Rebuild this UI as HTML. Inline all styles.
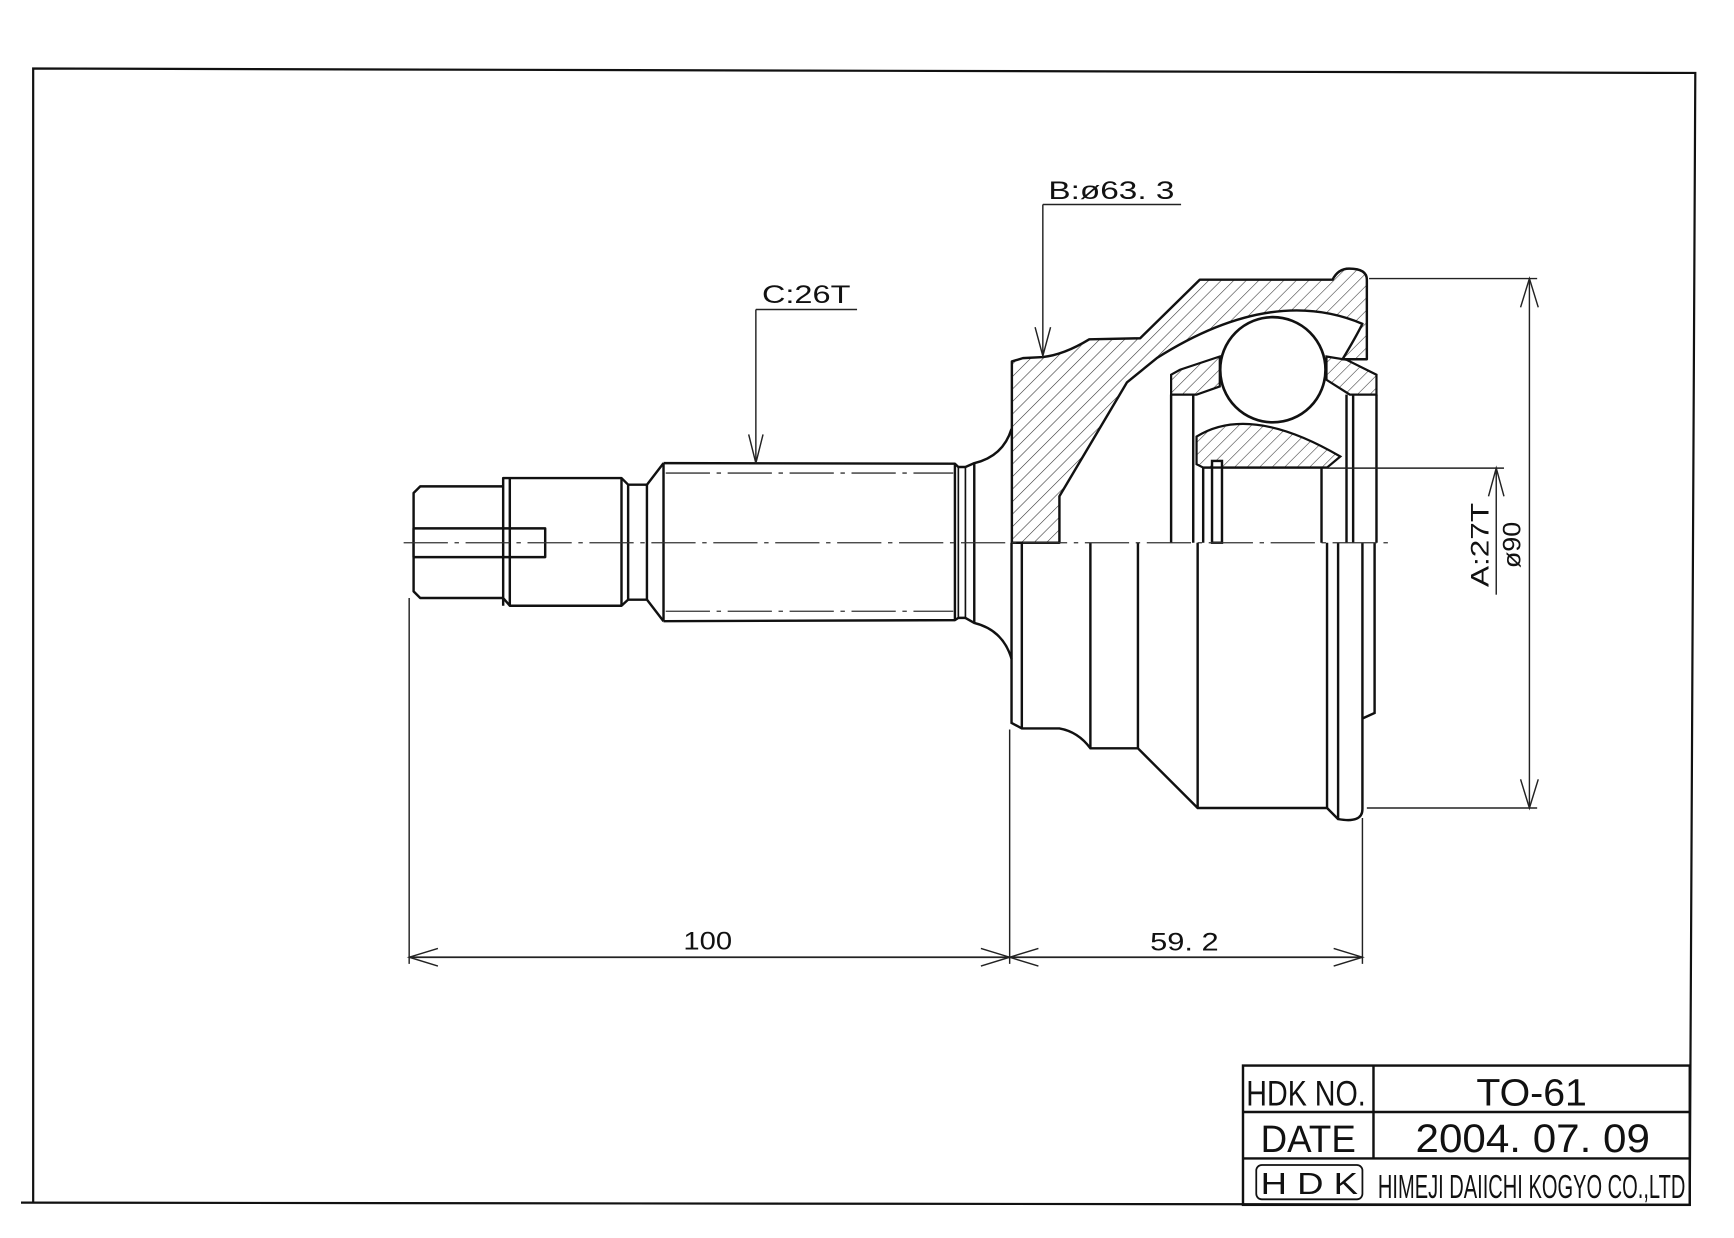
<!DOCTYPE html>
<html><head><meta charset="utf-8"><style>
html,body{margin:0;padding:0;background:#fff;}
svg{display:block;}
text{font-family:"Liberation Sans",sans-serif;fill:#111;}
</style></head><body>
<svg width="1734" height="1238" viewBox="0 0 1568 1120" preserveAspectRatio="none" xmlns="http://www.w3.org/2000/svg">
<defs>
<pattern id="h" patternUnits="userSpaceOnUse" width="8" height="8" patternTransform="rotate(45)">
<line x1="0" y1="0" x2="0" y2="8" stroke="#333" stroke-width="1"/>
</pattern>
</defs>
<rect width="1568" height="1120" fill="#fff"/>
<!-- frame -->
<polyline points="30,1088 30,62 1533,66 1528,1090" fill="none" stroke="#111" stroke-width="2"/>
<line x1="19" y1="1088" x2="1528" y2="1090" stroke="#111" stroke-width="2"/>

<g fill="none" stroke="#111" stroke-width="2.2" stroke-linejoin="round">
<path d="M455,440 L380,440 L374,446 L374,535 L380,541 L455,541"/>
<rect x="374" y="478" width="119" height="26" fill="#fff"/>
<path d="M455,548 L455,432.5 L461,432.5 L562,432.5 L568,438.5 L568,542.5 L562,548 L461,548 L455,541"/>
<line x1="461" y1="432.5" x2="461" y2="548"/>
<line x1="562" y1="432.5" x2="562" y2="548"/>
<path d="M568,438.5 L585,438.5 L600,419 M568,542.5 L585,542.5 L600,562"/>
<line x1="585" y1="438.5" x2="585" y2="542.5"/>
<path d="M600,419 L863.5,419.5 L866.6,422.5 L873,422.5 L881,419 Q907,413 914.7,388"/>
<path d="M600,562 L863.5,561 L866.6,559 L873,559 L881,563.6 Q907,570 914.7,596"/>
<line x1="600" y1="419" x2="600" y2="562"/>
<line x1="863.5" y1="419.5" x2="863.5" y2="561"/>
<line x1="866.6" y1="422.5" x2="866.6" y2="559" stroke-width="1.5"/>
<line x1="873" y1="422.5" x2="873" y2="559" stroke-width="1.5"/>
<line x1="881" y1="419" x2="881" y2="563.6"/>
</g>
<g stroke="#333" stroke-width="1.2" stroke-dasharray="40,6,4,6" fill="none">
<line x1="602" y1="428" x2="862" y2="428"/>
<line x1="602" y1="553" x2="862" y2="553"/>
</g>

<path d="M915,491 L915,327 L925,324 L943,323 Q962,321 985,307 L1031,306 L1085,253 L1205,253 Q1210,243 1220,243 Q1236,243 1236,253 L1236,325 L1214,325 Q1226,305 1232,293 Q1150,258 1046,324 L1019,346 L958,449 L958,491 Z" fill="url(#h)" stroke="#111" stroke-width="2.2" stroke-linejoin="round"/>
<path d="M1059,339 L1067,334.5 L1103,322.5 L1103,349.6 L1082,357 L1059,357 Z" fill="url(#h)" stroke="#111" stroke-width="2"/>
<path d="M1199.5,322.5 L1217.6,325.5 L1244.7,339 L1244.7,357 L1220.6,357 L1199.5,343.6 Z" fill="url(#h)" stroke="#111" stroke-width="2"/>
<circle cx="1151" cy="334.5" r="47.6" fill="#fff" stroke="#111" stroke-width="2.4"/>
<path d="M1082,420 L1082,395 Q1130,365 1212,413 L1200,423 L1088,423 Z" fill="url(#h)" stroke="#111" stroke-width="2"/>

<g fill="none" stroke="#111" stroke-width="2.2">
<line x1="1059" y1="357" x2="1059" y2="491"/>
<line x1="1079" y1="357" x2="1079" y2="491"/>
<line x1="1088" y1="423" x2="1088" y2="491"/>
<rect x="1096" y="417" width="9" height="74" fill="#fff"/>
<line x1="1088" y1="423" x2="1200" y2="423"/>
<line x1="1195" y1="423" x2="1195" y2="491"/>
<line x1="1217.6" y1="357" x2="1217.6" y2="491"/>
<line x1="1223.6" y1="357" x2="1223.6" y2="491"/>
<line x1="1244.7" y1="357" x2="1244.7" y2="491"/>
<path d="M914.7,491 L914.7,654 L924,659 L958,659 Q975,662 986,677 L1029,677 L1083,731 L1200,731 L1210,741 Q1232,745 1232,732 L1232,491"/>
<line x1="924" y1="491" x2="924" y2="659"/>
<line x1="986" y1="491" x2="986" y2="677"/>
<line x1="1029" y1="491" x2="1029" y2="677"/>
<line x1="1083" y1="491" x2="1083" y2="731"/>
<line x1="1200" y1="491" x2="1200" y2="731"/>
<line x1="1210" y1="491" x2="1210" y2="741"/>
<path d="M1243,491 L1243,645 L1232,650"/>
</g>

<line x1="365" y1="491" x2="1255" y2="491" stroke="#333" stroke-width="1.2" stroke-dasharray="40,6,4,6"/>

<g stroke="#222" stroke-width="1.3" fill="none">
<line x1="370" y1="541" x2="370" y2="872"/>
<line x1="913" y1="660" x2="913" y2="872"/>
<line x1="1232" y1="740" x2="1232" y2="872"/>
<line x1="370" y1="866" x2="1232" y2="866" stroke-width="1.6"/>
<path d="M396,858 L370,866 L396,874 M887,858 L913,866 L887,874 M939,858 L913,866 L939,874 M1206,858 L1232,866 L1206,874"/>
<line x1="1238" y1="252" x2="1390" y2="252"/>
<line x1="1236" y1="731" x2="1390" y2="731"/>
<line x1="1383" y1="252" x2="1383" y2="731"/>
<path d="M1375,278 L1383,252 L1391,278 M1375,705 L1383,731 L1391,705"/>
<line x1="1200" y1="423.5" x2="1360" y2="423.5"/>
<line x1="1353" y1="423.5" x2="1353" y2="538"/>
<path d="M1346,449 L1353,423.5 L1360,449"/>
<line x1="943" y1="185" x2="1068" y2="185"/>
<line x1="943" y1="185" x2="943" y2="322"/>
<path d="M936,296 L943,322 L950,296"/>
<line x1="683.5" y1="280" x2="775" y2="280"/>
<line x1="683.5" y1="280" x2="683.5" y2="419"/>
<path d="M677,393 L683.5,419 L690,393"/>
</g>
<g font-size="23">
<text x="640" y="859" text-anchor="middle" textLength="44" lengthAdjust="spacingAndGlyphs">100</text>
<text x="1071" y="860" text-anchor="middle" textLength="62" lengthAdjust="spacingAndGlyphs">59. 2</text>
<text x="948" y="180" textLength="114" lengthAdjust="spacingAndGlyphs">B:ø63. 3</text>
<text x="689" y="274" textLength="80" lengthAdjust="spacingAndGlyphs">C:26T</text>
<text transform="translate(1346,531) rotate(-90)" textLength="76" lengthAdjust="spacingAndGlyphs">A:27T</text>
<text transform="translate(1375,514) rotate(-90)" textLength="42" lengthAdjust="spacingAndGlyphs">ø90</text>
</g>

<g stroke="#111" stroke-width="2.2" fill="none">
<rect x="1124" y="964" width="404" height="126"/>
<line x1="1124" y1="1006" x2="1528" y2="1006"/>
<line x1="1124" y1="1048" x2="1528" y2="1048"/>
<line x1="1242" y1="964" x2="1242" y2="1048"/>
<rect x="1136" y="1054" width="96" height="31" rx="5" stroke-width="1.6"/>
</g>
<g>
<text x="1127" y="1000" font-size="32" textLength="108" lengthAdjust="spacingAndGlyphs">HDK NO.</text>
<text x="1385" y="1000" font-size="34" text-anchor="middle" textLength="100" lengthAdjust="spacingAndGlyphs">TO-61</text>
<text x="1140" y="1042" font-size="34" textLength="86" lengthAdjust="spacingAndGlyphs">DATE</text>
<text x="1280" y="1042" font-size="36" textLength="212" lengthAdjust="spacingAndGlyphs">2004. 07. 09</text>
<text x="1140" y="1080" font-size="28" textLength="88" lengthAdjust="spacingAndGlyphs">H D K</text>
<text x="1246" y="1084" font-size="30" textLength="278" lengthAdjust="spacingAndGlyphs">HIMEJI DAIICHI KOGYO CO.,LTD</text>
</g>
</svg>
</body></html>
